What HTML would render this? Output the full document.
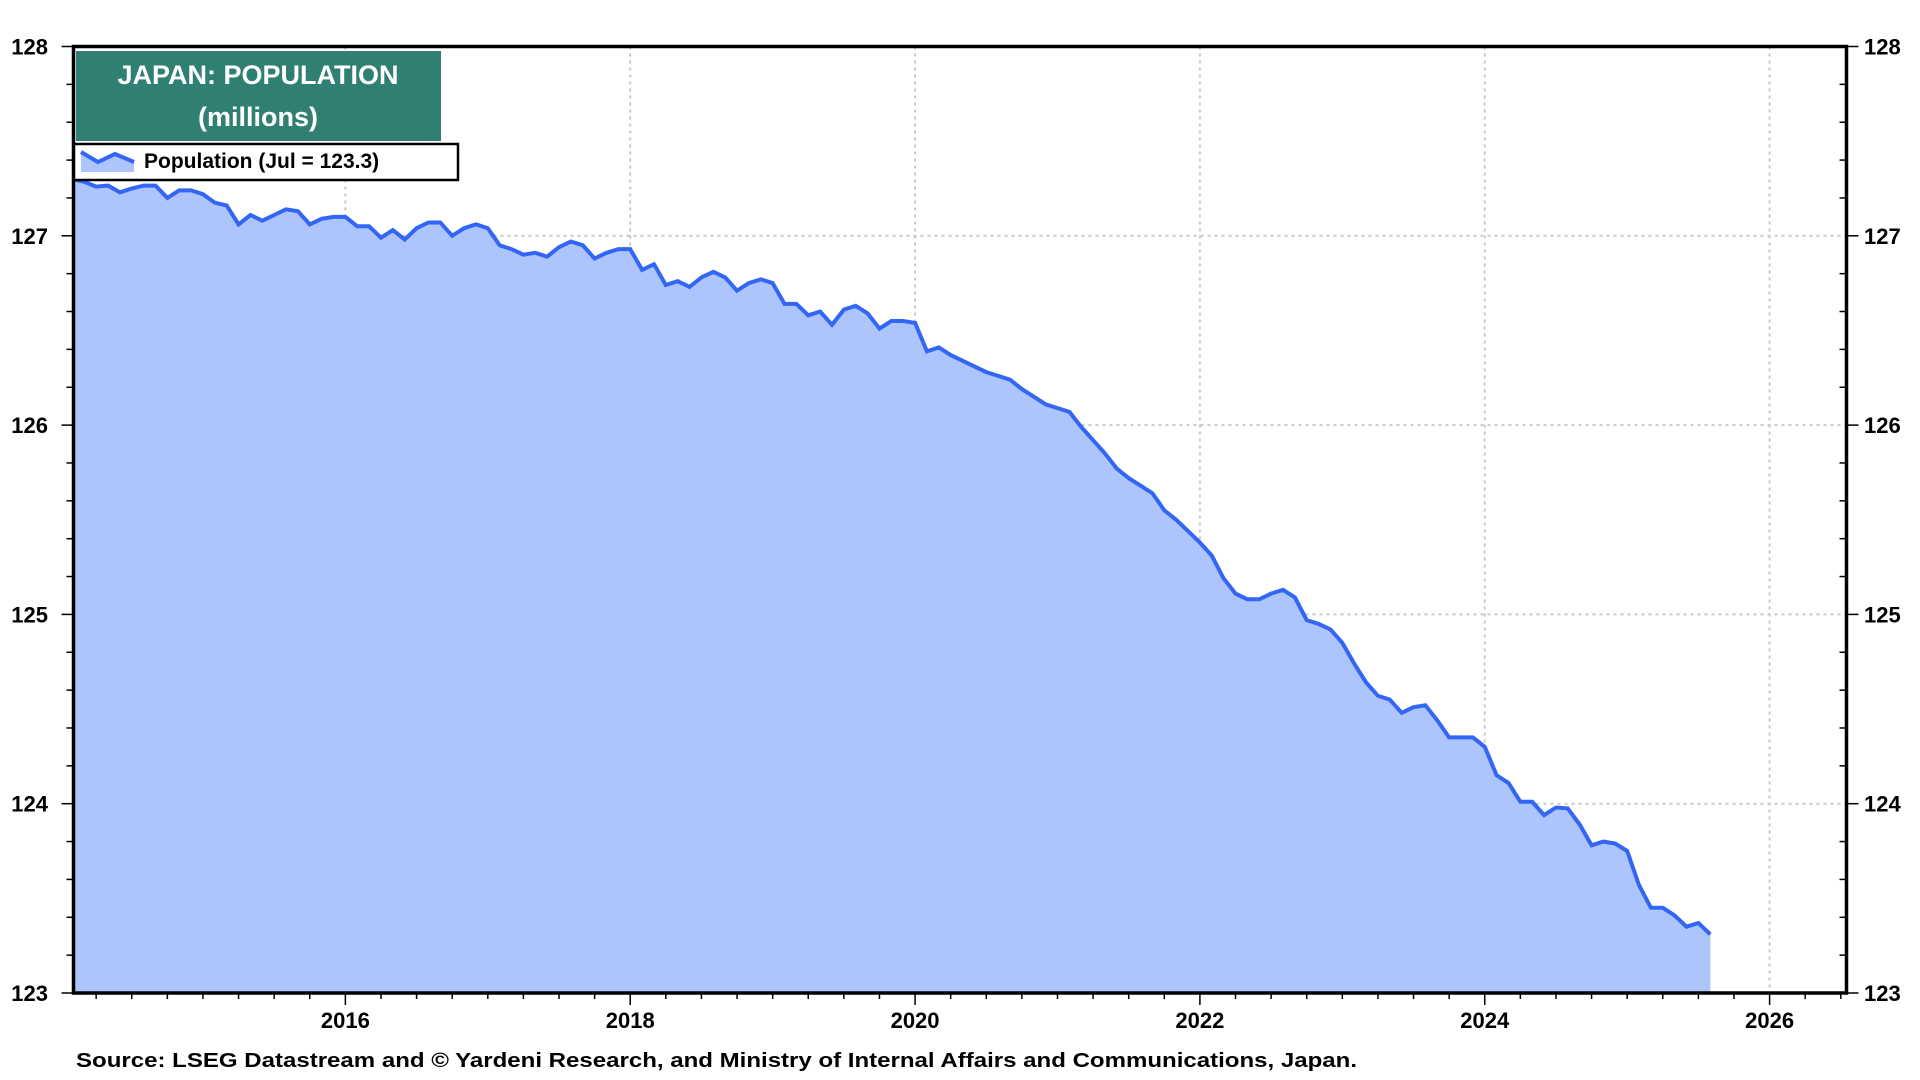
<!DOCTYPE html>
<html><head><meta charset="utf-8"><style>
html,body{margin:0;padding:0;background:#fff;width:1920px;height:1080px;overflow:hidden;font-family:"Liberation Sans",Arial,sans-serif}
svg text{font-family:"Liberation Sans",Arial,sans-serif;font-weight:bold}
</style></head><body>
<svg id="chart" width="1920" height="1080" viewBox="0 0 1920 1080" xmlns="http://www.w3.org/2000/svg">
  <g id="grid"></g>
  <g id="series"></g>
  <g id="axes"></g>
  <rect x="76" y="51" width="365" height="90" fill="#2f7f72"/>
  <text x="258" y="84" fill="#fff" font-size="27" text-anchor="middle">JAPAN: POPULATION</text>
  <text x="258" y="126" fill="#fff" font-size="27" text-anchor="middle">(millions)</text>
  <g>
    <rect x="74" y="144" width="384" height="36" fill="#fff" stroke="#000" stroke-width="2.5"/>
    <path d="M81,152 L98,162 L115,154 L134,162 L134,172 L81,172 Z" fill="#aec4fc"/>
    <polyline points="81,152 98,162 115,154 134,162" fill="none" stroke="#3366f5" stroke-width="4"/>
    <text x="144" y="168" font-size="21" fill="#000">Population (Jul = 123.3)</text>
  </g>
  <text x="76" y="1067" font-size="20" fill="#000" textLength="1281" lengthAdjust="spacingAndGlyphs">Source: LSEG Datastream and © Yardeni Research, and Ministry of Internal Affairs and Communications, Japan.</text>
</svg>
<script>
const startYear = 2014;
const startMonth = 1;
const population = [
127.30,127.285,127.26,127.265,127.23,127.25,127.265,127.265,127.20,127.24,127.24,127.22,
127.175,127.16,127.06,127.11,127.08,127.11,127.14,127.13,127.06,127.09,127.10,127.10,
127.05,127.05,126.99,127.03,126.98,127.04,127.07,127.07,127.00,127.04,127.06,127.04,
126.95,126.93,126.90,126.91,126.89,126.94,126.97,126.95,126.88,126.91,126.93,126.93,
126.82,126.85,126.74,126.76,126.73,126.78,126.81,126.78,126.71,126.75,126.77,126.75,
126.64,126.64,126.58,126.60,126.53,126.61,126.63,126.59,126.51,126.55,126.55,126.54,
126.39,126.41,126.37,126.34,126.31,126.28,126.26,126.24,126.19,126.15,126.11,126.09,
126.07,125.99,125.92,125.85,125.77,125.72,125.68,125.64,125.55,125.50,125.44,125.38,
125.31,125.19,125.11,125.08,125.08,125.11,125.13,125.09,124.97,124.95,124.92,124.85,
124.74,124.64,124.57,124.55,124.48,124.51,124.52,124.44,124.35,124.35,124.35,124.30,
124.15,124.11,124.01,124.01,123.94,123.98,123.975,123.89,123.78,123.80,123.79,123.75,
123.57,123.45,123.45,123.41,123.35,123.37,123.31
];
const xTickYears = [2016,2018,2020,2022,2024,2026];
const xTickLabels = ["2016","2018","2020","2022","2024","2026"];
const yTicks = [123,124,125,126,127,128];
const yTickLabels = ["123","124","125","126","127","128"];

const NS = "http://www.w3.org/2000/svg";
const L = 73.5, R = 1846.5, T = 46.5, B = 993;
const xMin = 2014.091, xMax = 2026.54, yMin = 123, yMax = 128;
function xs(t){ return L + (t - xMin) / (xMax - xMin) * (R - L); }
function ys(v){ return B - (v - yMin) / (yMax - yMin) * (B - T); }
function mk(tag, attrs, parent){
  const e = document.createElementNS(NS, tag);
  for (const k in attrs) e.setAttribute(k, attrs[k]);
  parent.appendChild(e); return e;
}
const grid = document.getElementById('grid');
const axes = document.getElementById('axes');
const series = document.getElementById('series');

// gridlines
xTickYears.forEach(y => {
  const g = mk('line', {x1: xs(y), x2: xs(y), y1: T, y2: B, stroke: '#c8c8c8', 'stroke-width': 2, 'stroke-dasharray': '3 4'}, grid);
  
  
});
yTicks.forEach(v => {
  if (v === yMin || v === yMax) return;
  const g = mk('line', {x1: L, x2: R, y1: ys(v), y2: ys(v), stroke: '#c8c8c8', 'stroke-width': 2, 'stroke-dasharray': '3 4'}, grid);
  
  
});

// series
const pts = population.map((v, i) => {
  const t = startYear + (startMonth - 1 + i + 1) / 12;
  return [xs(t), ys(v)];
});
let d = 'M' + pts[0][0].toFixed(1) + ',' + B;
pts.forEach(p => { d += ' L' + p[0].toFixed(1) + ',' + p[1].toFixed(1); });
d += ' L' + pts[pts.length-1][0].toFixed(1) + ',' + B + ' Z';
const area = mk('path', {d: d, fill: '#aec4fc'}, series);


const line = mk('polyline', {points: pts.map(p => p[0].toFixed(1) + ',' + p[1].toFixed(1)).join(' '), fill: 'none', stroke: '#3366f5', 'stroke-width': 4, 'stroke-linejoin': 'miter'}, series);



// frame
const frame = mk('rect', {x: L, y: T, width: R - L, height: B - T, fill: 'none', stroke: '#000', 'stroke-width': 3.5}, axes);



// y minor ticks
for (let v = yMin; v <= yMax + 0.001; v += 0.2) {
  const major = Math.abs(v - Math.round(v)) < 0.01;
  const tl = mk('line', {x1: L - (major ? 12 : 7), x2: L, y1: ys(v), y2: ys(v), stroke: '#000', 'stroke-width': 1.5}, axes);
  
  
  const tr = mk('line', {x1: R - (major ? 0 : 7), x2: R + (major ? 12 : 0), y1: ys(v), y2: ys(v), stroke: '#000', 'stroke-width': 1.5}, axes);
  
  
}
yTicks.forEach((v, i) => {
  const a = mk('text', {x: 48, y: ys(v) + 8, 'font-size': 22, 'text-anchor': 'end', fill: '#000'}, axes);
  a.textContent = yTickLabels[i];
  
  
  const b = mk('text', {x: 1864, y: ys(v) + 8, 'font-size': 22, 'text-anchor': 'start', fill: '#000'}, axes);
  b.textContent = yTickLabels[i];
  
  
});
// x ticks (quarterly)
for (let q = Math.ceil(xMin * 4); q <= Math.floor(xMax * 4); q++) {
  const t = q / 4;
  const major = (q % 8 === 0);
  const tk = mk('line', {x1: xs(t), x2: xs(t), y1: B, y2: B + (major ? 12 : 6), stroke: '#000', 'stroke-width': 1.5}, axes);
  
  
}
xTickYears.forEach((y, i) => {
  const t = mk('text', {x: xs(y), y: 1028, 'font-size': 22, 'text-anchor': 'middle', fill: '#000'}, axes);
  t.textContent = xTickLabels[i];
  
  
});
</script>
</body></html>
